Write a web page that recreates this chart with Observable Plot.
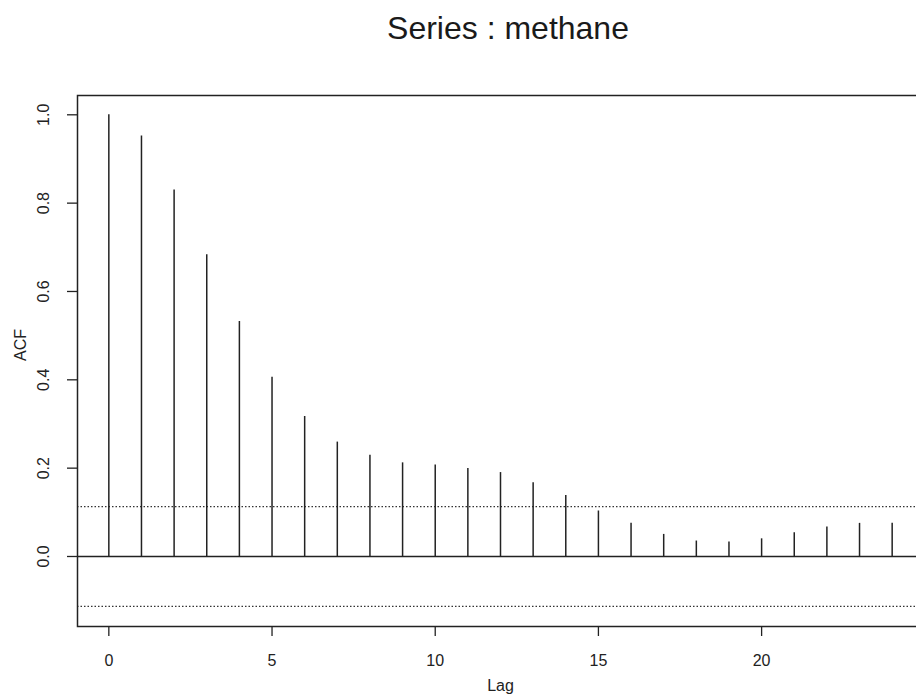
<!DOCTYPE html>
<html>
<head>
<meta charset="utf-8">
<script src="https://cdn.jsdelivr.net/npm/d3@7"></script>
<script src="https://cdn.jsdelivr.net/npm/@observablehq/plot@0.6"></script>
<style>
  body { margin: 0; background: #fff; overflow: hidden; }
  #wrap { position: relative; width: 916px; height: 698px; overflow: hidden; background: #fff; }
  #title { position: absolute; top: 12px; left: 0; width: 1016px; text-align: center;
           font: 32px/32px "Liberation Sans", Arial, sans-serif; color: #1a1a1a; }
  #chart { position: absolute; top: 60px; left: 0; width: 940px; }
  #chart svg { max-width: none !important; width: 940px !important; height: 638px !important; }
</style>
</head>
<body>
<div id="wrap">
  <div id="title">Series : methane</div>
  <div id="chart"></div>
</div>
<script>
const lags = [0, 1, 2, 3, 4, 5, 6, 7, 8, 9, 10, 11, 12, 13, 14, 15, 16, 17, 18, 19, 20, 21, 22, 23, 24];
const acf  = [1.000, 0.952, 0.830, 0.683, 0.532, 0.406, 0.317, 0.259, 0.229, 0.212, 0.207, 0.199,
              0.190, 0.167, 0.138, 0.103, 0.075, 0.050, 0.035, 0.033, 0.040, 0.054, 0.067, 0.075, 0.075];
const ciBounds = [0.113, -0.113];
const xTicks = [0, 5, 10, 15, 20];
const xTickLabels = ["0", "5", "10", "15", "20"];
const yTicks = [0.0, 0.2, 0.4, 0.6, 0.8, 1.0];
const yTickLabels = ["0.0", "0.2", "0.4", "0.6", "0.8", "1.0"];
const xLabel = "Lag";
const yLabel = "ACF";

const data = lags.map((lag, i) => ({lag, acf: acf[i]}));
const ink = "#222";

const chart = Plot.plot({
  width: 940,
  height: 638,
  marginLeft: 77,
  marginRight: 17,
  marginTop: 35,
  marginBottom: 72,
  x: {domain: [-0.96, 24.96], axis: null},
  y: {domain: [-0.1585, 1.0437], axis: null},
  style: {fontFamily: "'Liberation Sans', Arial, sans-serif", fontSize: "16px", color: ink, background: "white"},
  marks: [
    Plot.ruleY(ciBounds, {stroke: "#333", strokeWidth: 1.2, strokeDasharray: "1.5,2"}),
    Plot.ruleY([0], {stroke: ink, strokeWidth: 1.4}),
    Plot.ruleX(data, {x: "lag", y1: 0, y2: "acf", stroke: ink, strokeWidth: 1.5}),
    Plot.frame({stroke: ink, strokeWidth: 1.5}),
    Plot.axisY({ticks: yTicks, tickSize: 10, tickFormat: () => "", label: null, strokeWidth: 1.3}),
    Plot.axisX({ticks: xTicks, tickSize: 10, tickFormat: () => "", label: null, strokeWidth: 1.3}),
    Plot.text(yTicks, {y: d => d, text: (d, i) => yTickLabels[i], frameAnchor: "left", dx: -34,
                       rotate: -90, textAnchor: "middle", lineAnchor: "middle", fill: ink}),
    Plot.text(xTicks, {x: d => d, text: (d, i) => xTickLabels[i], frameAnchor: "bottom", dy: 34,
                       textAnchor: "middle", lineAnchor: "middle", fill: ink}),
    Plot.text([xLabel], {text: d => d, frameAnchor: "bottom", dy: 59, lineAnchor: "middle", fill: ink}),
    Plot.text([yLabel], {text: d => d, frameAnchor: "left", dx: -57, rotate: -90, lineAnchor: "middle", fill: ink})
  ]
});
document.getElementById("chart").appendChild(chart);
</script>
</body>
</html>
